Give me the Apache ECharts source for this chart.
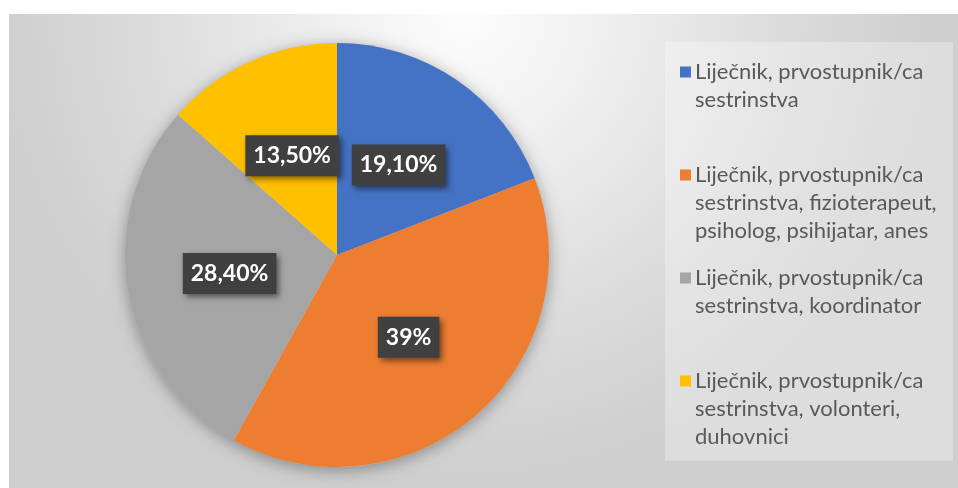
<!DOCTYPE html>
<html>
<head>
<meta charset="utf-8">
<script src="https://cdn.jsdelivr.net/npm/echarts@6/dist/echarts.min.js"></script>
<style>
  html, body { margin: 0; padding: 0; background: #ffffff; }
  #chart { width: 958px; height: 488px; }
</style>
</head>
<body>
<div id="chart"></div>
<script>
// Legend text, already broken into the lines shown next to each swatch
const legendLines = [
  ['Liječnik, prvostupnik/ca', 'sestrinstva'],
  ['Liječnik, prvostupnik/ca', 'sestrinstva, fizioterapeut,', 'psiholog, psihijatar, anes'],
  ['Liječnik, prvostupnik/ca', 'sestrinstva, koordinator'],
  ['Liječnik, prvostupnik/ca', 'sestrinstva, volonteri,', 'duhovnici']
];
const categories = legendLines.map(lines => lines.join(' '));

// Share of each team composition, in percent
const values = [19.1, 39, 28.4, 13.5];

const colors = ['#4472C4', '#ED7D31', '#A5A5A5', '#FFC000'];

function pctLabel(v) {
  return Number.isInteger(v) ? v + '%' : v.toFixed(2).replace('.', ',') + '%';
}

const chart = echarts.init(document.getElementById('chart'), null, { renderer: 'canvas' });

const legendRich = {
  g: { width: 4 },
  p: { width: 15 },
  t: { fontFamily: 'Lato', fontSize: 22, color: '#595959', lineHeight: 28 }
};
colors.forEach((c, i) => {
  legendRich['m' + i] = { width: 11, height: 11, backgroundColor: c };
});

const legends = categories.map((name, i) => ({
  data: [name],
  orient: 'vertical',
  left: 675,
  top: 58 + i * 103,
  padding: 0,
  itemGap: 0,
  itemWidth: 0,
  itemHeight: 0,
  selectedMode: false,
  formatter: n => {
    const k = categories.indexOf(n);
    return legendLines[k]
      .map((ln, j) => (j === 0 ? '{m' + k + '|}{g|}' : '{p|}') + '{t|' + ln + '}')
      .join('\n');
  },
  textStyle: { fontFamily: 'Lato', fontSize: 22, color: '#595959', lineHeight: 28, rich: legendRich }
}));

chart.setOption({
  animation: false,
  graphic: [
    {
      type: 'rect', z: 0, silent: true,
      shape: { x: 9, y: 14, width: 949, height: 474 },
      style: {
        fill: {
          type: 'radial', x: 0.48, y: 0.0, r: 1.0,
          colorStops: [
            { offset: 0, color: '#fdfdfd' },
            { offset: 0.35, color: '#ececec' },
            { offset: 0.7, color: '#dadada' },
            { offset: 1, color: '#cecece' }
          ]
        }
      }
    },
    {
      type: 'rect', z: 0, silent: true,
      shape: { x: 665, y: 42, width: 288, height: 419 },
      style: { fill: 'rgba(255,255,255,0.3)' }
    }
  ],
  legend: legends,
  series: [
    {
      // soft drop shadow behind the whole pie
      type: 'pie',
      silent: true,
      legendHoverLink: false,
      center: [337, 255],
      radius: 212,
      label: { show: false },
      labelLine: { show: false },
      itemStyle: { color: '#c8c8c8', shadowBlur: 16, shadowColor: 'rgba(0,0,0,0.35)', shadowOffsetY: 3 },
      data: [{ value: 1, name: '' }]
    },
    {
      type: 'pie',
      center: [337, 255],
      radius: 212,
      startAngle: 90,
      clockwise: true,
      silent: true,
      avoidLabelOverlap: false,
      itemStyle: { borderWidth: 0 },
      labelLine: { show: false },
      label: {
        show: true,
        position: 'inside',
        formatter: p => pctLabel(p.value),
        fontFamily: 'Lato',
        fontWeight: 'bold',
        fontSize: 23,
        lineHeight: 24,
        color: '#ffffff',
        backgroundColor: '#404040',
        padding: [9, 8, 8, 8],
        shadowColor: 'rgba(0,0,0,0.5)',
        shadowBlur: 6,
        shadowOffsetX: 3,
        shadowOffsetY: 3
      },
      data: categories.map((name, i) => ({
        name,
        value: values[i],
        itemStyle: { color: colors[i] }
      }))
    }
  ]
});
</script>
</body>
</html>
